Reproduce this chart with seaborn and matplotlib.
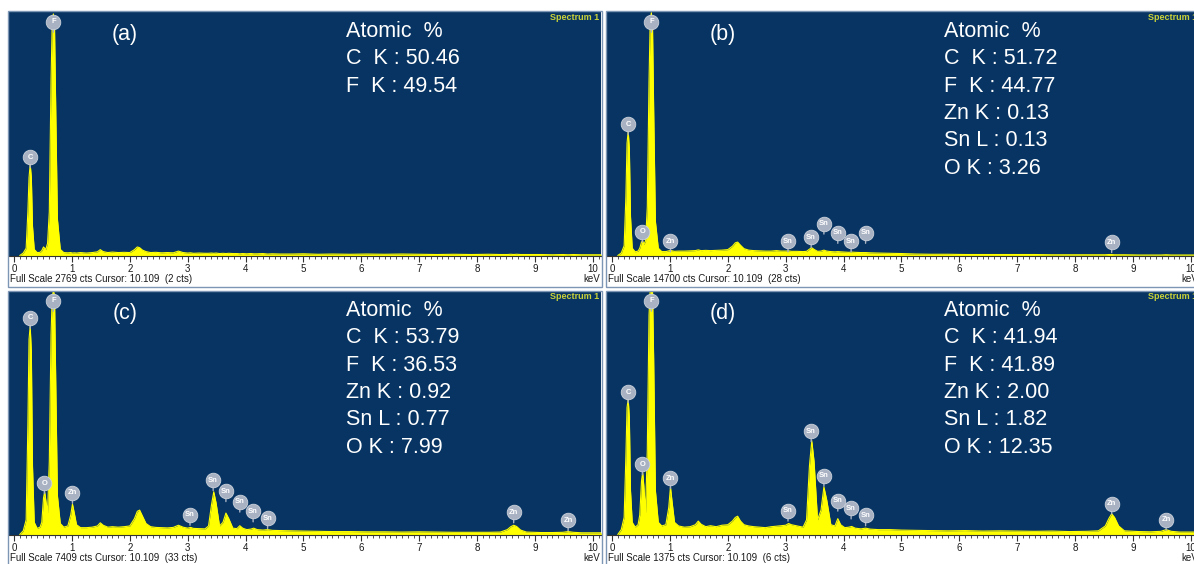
import matplotlib
matplotlib.use("Agg")
import matplotlib.pyplot as plt
import matplotlib.transforms as mtransforms
from matplotlib.patches import Rectangle
import pandas as pd
import seaborn as sns

sns.set_style("white")
plt.rcParams["font.family"] = ["Liberation Sans", "DejaVu Sans"]

# ---------------- data (intensity in % of full scale) ----------------
energy = [
    0.10, 0.16, 0.21, 0.24, 0.26, 0.28, 0.30, 0.32, 0.35, 0.40, 0.45,
    0.48, 0.51, 0.53, 0.55, 0.58,
    0.61, 0.64, 0.66, 0.68, 0.70, 0.72, 0.75, 0.80, 0.86,
    0.93, 0.98, 1.01, 1.04, 1.08, 1.15,
    1.25, 1.35, 1.44, 1.49, 1.54, 1.62, 1.70, 1.80, 1.90,
    2.00, 2.08, 2.13, 2.17, 2.22, 2.28, 2.36, 2.45,
    2.55, 2.65, 2.75, 2.84, 2.92, 3.00, 3.05, 3.10, 3.20, 3.30,
    3.36, 3.41, 3.45, 3.49, 3.55, 3.61, 3.66, 3.71, 3.78, 3.85,
    3.90, 3.95, 4.02, 4.09, 4.14, 4.20, 4.30, 4.38, 4.46, 4.60,
    4.80, 5.00, 5.25, 5.50, 5.80, 6.10, 6.40, 6.70, 7.00, 7.30, 7.60, 7.90, 8.20, 8.40,
    8.52, 8.58, 8.63, 8.68, 8.75, 8.85,
    9.10, 9.30, 9.48, 9.57, 9.66, 9.80, 10.00, 10.20,
]

counts_a = [
    0, 1.0, 3, 18, 32, 37.5, 32, 12, 2.5, 1.2, 1.3,
    2, 3.5, 3, 2.5, 5,
    18, 72, 95, 99, 94, 62, 15, 2.5, 1.2,
    1.1, 1.2, 1.0, 1.1, 1.0, 1.2,
    1.0, 1.2, 1.5, 2.4, 1.6, 1.2, 1.4, 1.2, 1.3,
    1.2, 2.4, 3.5, 3.2, 2.2, 1.6, 1.2, 1.3,
    1.1, 1.2, 1.1, 1.8, 1.2, 1.0, 1.1, 0.9, 1.0, 0.9,
    0.9, 1.0, 0.9, 1.0, 0.8, 0.9, 0.8, 0.9, 0.8, 0.8,
    0.7, 0.8, 0.7, 0.8, 0.7, 0.7, 0.8, 0.6, 0.7, 0.6,
    0.6, 0.7, 0.5, 0.6, 0.5, 0.6, 0.5, 0.6, 0.5, 0.4, 0.5, 0.4, 0.5, 0.4,
    0.4, 0.5, 0.4, 0.5, 0.4, 0.4,
    0.4, 0.3, 0.4, 0.3, 0.4, 0.3, 0.3, 0.3,
]

counts_b = [
    0, 1.0, 4, 24, 46, 51, 44, 16, 3, 1.5, 1.8,
    3, 5.5, 6.0, 4.5, 6,
    20, 72, 96, 99.5, 94, 60, 14, 3, 1.6,
    1.6, 1.9, 2.1, 1.9, 1.7, 1.8,
    1.8, 1.9, 2.0, 2.3, 2.0, 2.1, 2.0, 2.1, 2.2,
    2.4, 3.8, 5.2, 5.5, 4.2, 2.8, 2.2, 2.0,
    1.9, 1.8, 1.8, 2.0, 1.8, 1.8, 1.9, 1.7, 1.7, 1.6,
    1.7, 2.6, 3.2, 2.5, 1.7, 1.8, 2.2, 1.8, 1.6, 1.5,
    1.6, 1.5, 1.4, 1.3, 1.4, 1.3, 1.2, 1.2, 1.1, 1.0,
    0.9, 0.8, 0.6, 0.5, 0.5, 0.4, 0.4, 0.4, 0.4, 0.4, 0.3, 0.3, 0.3, 0.3,
    0.3, 0.4, 0.4, 0.3, 0.3, 0.3,
    0.2, 0.2, 0.2, 0.3, 0.2, 0.2, 0.2, 0.2,
]

counts_c = [
    0, 1.5, 6, 45, 80, 85.5, 75, 28, 5, 2.5, 3,
    5, 15, 17.5, 14, 9,
    30, 82, 97, 100, 98, 65, 16, 4.5, 3.0,
    3.5, 8, 12.5, 9, 4, 2.8,
    2.8, 3.0, 3.5, 4.8, 3.8, 3.0, 3.2, 3.0, 3.2,
    3.5, 6.5, 9.5, 10, 7.5, 4.5, 3.2, 2.9,
    2.8, 2.7, 2.9, 3.8, 3.0, 2.6, 2.9, 2.5, 2.4, 2.3,
    3.5, 12, 17.5, 13, 3.5, 5, 8.8, 6.5, 2.6, 2.4,
    3.6, 2.6, 2.0, 2.2, 2.6, 2.0, 1.8, 2.0, 1.7, 1.6,
    1.5, 1.4, 1.3, 1.2, 1.2, 1.1, 1.1, 1.0, 1.1, 1.0, 0.9, 0.9, 0.9, 1.0,
    2.0, 3.2, 3.8, 3.3, 1.8, 1.0,
    0.8, 0.8, 0.9, 1.2, 0.9, 0.7, 0.7, 0.7,
]

counts_d = [
    0, 2, 7, 32, 52, 55.5, 48, 18, 5, 3, 4,
    8, 22, 25.5, 20, 9,
    35, 90, 100, 100, 100, 72, 18, 5, 3.5,
    4, 11, 19.5, 13, 5, 3.5,
    3.0, 3.2, 4.0, 5.5, 4.2, 3.2, 3.6, 3.2, 3.8,
    4.0, 5.5, 7.0, 7.5, 5.5, 4.0, 3.5, 3.2,
    3.0, 2.8, 3.2, 3.4, 3.6, 3.8, 4.5, 4.0, 3.5, 3.0,
    6, 28, 38.5, 30, 6, 10, 19.5, 14, 4, 3.5,
    6.5, 4.0, 2.8, 3.0, 3.3, 2.6, 2.3, 2.6, 2.2, 2.0,
    2.0, 1.8, 1.7, 1.6, 1.5, 1.6, 1.4, 1.5, 1.4, 1.3, 1.4, 1.2, 1.3, 1.5,
    3.5, 6.5, 8.5, 7.0, 3.5, 1.5,
    1.2, 1.1, 1.3, 2.0, 1.3, 1.0, 1.0, 1.0,
]

full_scale_text = [
    "Full Scale 2769 cts Cursor: 10.109  (2 cts)",
    "Full Scale 14700 cts Cursor: 10.109  (28 cts)",
    "Full Scale 7409 cts Cursor: 10.109  (33 cts)",
    "Full Scale 1375 cts Cursor: 10.109  (6 cts)",
]
panel_letters = ["(a)", "(b)", "(c)", "(d)"]

comp_a = ["Atomic  %", "C  K : 50.46", "F  K : 49.54"]
comp_b = ["Atomic  %", "C  K : 51.72", "F  K : 44.77", "Zn K : 0.13", "Sn L : 0.13", "O K : 3.26"]
comp_c = ["Atomic  %", "C  K : 53.79", "F  K : 36.53", "Zn K : 0.92", "Sn L : 0.77", "O K : 7.99"]
comp_d = ["Atomic  %", "C  K : 41.94", "F  K : 41.89", "Zn K : 2.00", "Sn L : 1.82", "O K : 12.35"]

# element markers: (symbol, energy keV, height % of full scale)
marks_a = [("C", 0.28, 36.0), ("F", 0.68, 91.5)]
marks_b = [("C", 0.28, 49.5), ("F", 0.68, 91.5), ("O", 0.525, 5.5), ("Zn", 1.01, 1.5),
           ("Sn", 3.04, 1.5), ("Sn", 3.44, 3.2), ("Sn", 3.66, 8.8), ("Sn", 3.90, 5.0),
           ("Sn", 4.13, 1.5), ("Sn", 4.38, 5.0), ("Zn", 8.63, 1.2)]
marks_c = [("C", 0.28, 84.5), ("F", 0.68, 91.5), ("O", 0.525, 16.8), ("Zn", 1.01, 12.8),
           ("Sn", 3.04, 3.8), ("Sn", 3.44, 18.0), ("Sn", 3.66, 13.5), ("Sn", 3.90, 9.2),
           ("Sn", 4.13, 5.2), ("Sn", 4.38, 2.4), ("Zn", 8.63, 4.8), ("Zn", 9.57, 1.5)]
marks_d = [("C", 0.28, 54.0), ("F", 0.68, 91.5), ("O", 0.525, 24.5), ("Zn", 1.01, 18.8),
           ("Sn", 3.04, 5.5), ("Sn", 3.44, 38.0), ("Sn", 3.66, 19.8), ("Sn", 3.90, 9.6),
           ("Sn", 4.13, 6.4), ("Sn", 4.38, 3.6), ("Zn", 8.63, 8.4), ("Zn", 9.57, 1.8)]

# ---------------- figure ----------------
W, H = 1194, 564
fig = plt.figure(figsize=(W / 100, H / 100), dpi=100, facecolor="white")

BG = "#073462"
YEL = "#ffff00"
MARK = "#a9b2c3"

panels = [
    (counts_a, comp_a, marks_a, 9, 11.5),
    (counts_b, comp_b, marks_b, 607, 11.5),
    (counts_c, comp_c, marks_c, 9, 290.5),
    (counts_d, comp_d, marks_d, 607, 290.5),
]

for i, (counts, comp, marks, px, py) in enumerate(panels):
    aw, ah = 592, 244
    # outer frame of each panel
    fig.patches.append(Rectangle(((px - 1) / W, 1 - (py + ah + 31) / H), (aw + 2) / W, (ah + 31) / H,
                                 transform=fig.transFigure, fill=False, edgecolor="#7d96b5", lw=1.0))
    ax = fig.add_axes([px / W, 1 - (py + ah) / H, aw / W, ah / H])
    ax.set_facecolor(BG)
    df = pd.DataFrame({"keV": energy, "pct": counts})
    ax.fill_between(df["keV"], 0, df["pct"], color=YEL, lw=0, zorder=2)
    sns.lineplot(data=df, x="keV", y="pct", ax=ax, color=YEL, lw=0.8, zorder=3)
    ax.set_xlim(-0.086, 10.138)
    ax.set_ylim(0, 100)
    ax.set_xlabel("")
    ax.set_ylabel("")
    ax.set_yticks([])
    ax.set_xticks(range(0, 11))
    ax.set_xticks([k / 10 for k in range(0, 102)], minor=True)
    ax.tick_params(axis="x", which="major", direction="out", length=4, width=0.8,
                   color="#333333", labelsize=7, labelcolor="#1a1a1a", pad=2, bottom=True)
    ax.tick_params(axis="x", which="minor", direction="out", length=2, width=0.6,
                   color="#333333", bottom=True)
    for s in ["top", "left", "right"]:
        ax.spines[s].set_visible(False)
    ax.spines["bottom"].set_color("#333333")
    ax.spines["bottom"].set_linewidth(0.8)

    ax.text(0.002, -0.098, full_scale_text[i], transform=ax.transAxes, ha="left", va="center",
            fontsize=7, color="#1a1a1a")
    ax.text(0.998, -0.098, "keV", transform=ax.transAxes, ha="right", va="center",
            fontsize=7, color="#1a1a1a")
    ax.text(0.997, 0.975, "Spectrum 1", transform=ax.transAxes, ha="right", va="center",
            fontsize=6.5, color="#c9d13a", fontweight="bold")

    ax.text(0.196, 0.905, panel_letters[i], transform=ax.transAxes, ha="center", va="center",
            fontsize=15.5, color="white")
    for j, line in enumerate(comp):
        ax.text(0.57, 0.918 - j * 0.112, line, transform=ax.transAxes, ha="left", va="center",
                fontsize=15.5, color="white")

    off = mtransforms.offset_copy(ax.transData, fig=fig, x=0, y=7.5, units="points")
    for sym, e, base in marks:
        ax.annotate("", xy=(e, base), xytext=(0, 7.5), textcoords="offset points",
                    arrowprops=dict(arrowstyle="-", color=MARK, lw=1.0, shrinkA=0, shrinkB=0),
                    zorder=5, annotation_clip=False)
        ax.plot([e], [base], marker="o", ms=10.5, mfc=MARK, mec="#ccd2dc", mew=0.6,
                transform=off, zorder=6, clip_on=False)
        ax.text(e, base, sym, transform=off, ha="center", va="center", fontsize=5.5,
                color="white", fontweight="bold", zorder=7)

fig.savefig("out.png", dpi=100, facecolor="white")
